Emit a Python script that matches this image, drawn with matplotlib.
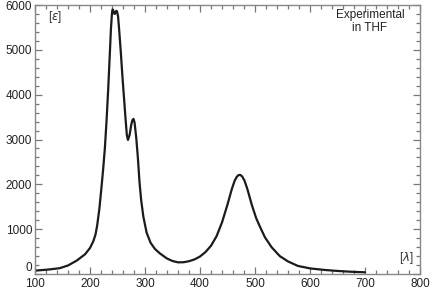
import matplotlib
matplotlib.use("Agg")
import matplotlib.pyplot as plt
from matplotlib.ticker import MultipleLocator

wavelength = [100, 125, 145, 160, 176, 191, 200, 206, 210, 213, 217, 221, 224, 227,
              230, 233, 236, 238, 240, 241, 242, 244, 245, 246, 248, 249, 251, 253,
              256, 259, 262, 265, 267, 269, 272, 275, 277, 279, 281, 284, 287, 290, 293,
              297, 303, 310, 318, 327, 340, 350, 360, 370, 380, 390, 400, 410, 420,
              430, 440, 450, 458, 463, 467, 470, 472, 474, 477, 481, 486, 494, 502,
              509, 518, 530, 545, 560, 578, 600, 625, 650, 675, 700]
epsilon = [75, 100, 130, 190, 300, 440, 580, 730, 880, 1080, 1450, 1950, 2350, 2800,
           3400, 4100, 4900, 5450, 5830, 5900, 5890, 5810, 5800, 5830, 5870, 5860, 5750, 5450,
           4950, 4400, 3900, 3400, 3100, 2990, 3100, 3330, 3430, 3460, 3380, 3050, 2600, 2050, 1650,
           1280, 920, 700, 560, 460, 345, 290, 260, 262, 285, 325, 390, 490, 630,
           840, 1150, 1550, 1900, 2080, 2170, 2205, 2210, 2205, 2170, 2080, 1900, 1550, 1250,
           1055, 820, 600, 400, 280, 180, 125, 92, 68, 50, 38]

x_ticks = [100, 200, 300, 400, 500, 600, 700, 800]
y_ticks = [0, 1000, 2000, 3000, 4000, 5000, 6000]

plt.rcParams['font.family'] = ['Liberation Sans', 'DejaVu Sans']

fig = plt.figure(figsize=(4.32, 2.90), dpi=100)
ax = fig.add_axes([35/432, 16/290, 385/432, 269/290])
ax.plot(wavelength, epsilon, color='#1e1a1a', lw=1.6, solid_capstyle='round', solid_joinstyle='round')
ax.set_xlim(100, 800)
ax.set_ylim(0, 6000)
ax.set_xticks(x_ticks)
ax.set_yticks(y_ticks)
ax.xaxis.set_minor_locator(MultipleLocator(20))
ax.yaxis.set_minor_locator(MultipleLocator(200))
ax.tick_params(which='both', direction='in', top=True, right=True, color='#777777',
               labelsize=8.5, labelcolor='#222222', width=0.9)
ax.tick_params(which='major', length=5)
ax.tick_params(axis='x', which='major', pad=3)
ax.tick_params(axis='y', which='major', pad=2)
ax.tick_params(which='minor', length=2.8)
for s in ax.spines.values():
    s.set_color('#888888')
    s.set_linewidth(1.0)

fig.canvas.draw()
ax.get_yticklabels()[0].set_va('bottom')

ax.text(13/385, 1 - 12/269, '[$\\varepsilon$]', transform=ax.transAxes, fontsize=8.5,
        color='#333333', ha='left', va='center')
ax.text(1 - 14/385, 16/269, '[$\\lambda$]', transform=ax.transAxes, fontsize=8.5,
        color='#333333', ha='center', va='center')
ax.text(1 - 50/385, 1 - 4/269, 'Experimental\nin THF', transform=ax.transAxes,
        fontsize=8.5, color='#222222', ha='center', va='top', linespacing=1.15)

fig.savefig('out.png', dpi=100)
